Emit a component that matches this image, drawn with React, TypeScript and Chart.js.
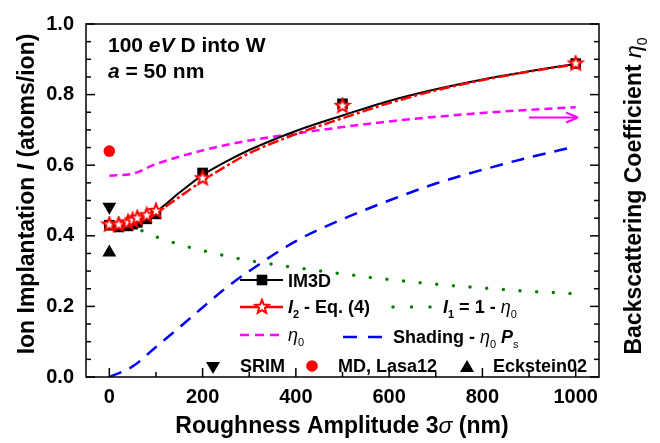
import React, { useEffect, useRef } from 'react';
import { Chart, registerables } from 'chart.js';
Chart.register(...registerables);

// ---- data ----
const curveX = [0, 50, 100, 150, 200, 250, 300, 400, 500, 600, 700, 800, 900, 1000];
const im3dFit = [0.43, 0.437, 0.468, 0.522, 0.572, 0.61, 0.643, 0.697, 0.741, 0.782, 0.815, 0.843, 0.866, 0.887];
const i2Curve = [0.43, 0.44, 0.466, 0.51, 0.556, 0.597, 0.634, 0.688, 0.733, 0.776, 0.812, 0.841, 0.865, 0.886];
const eta0 = [0.57, 0.576, 0.603, 0.624, 0.642, 0.657, 0.67, 0.69, 0.708, 0.724, 0.737, 0.748, 0.757, 0.764];
const i1 = [0.43, 0.424, 0.397, 0.376, 0.358, 0.343, 0.33, 0.31, 0.292, 0.276, 0.263, 0.252, 0.243, 0.236];
const shading = [0, 0.03, 0.085, 0.14, 0.197, 0.252, 0.3, 0.385, 0.447, 0.5, 0.548, 0.587, 0.622, 0.653];

const simX = [0, 20, 40, 50, 60, 80, 100, 200, 500, 1000];
const im3dPts = [0.43, 0.425, 0.428, 0.433, 0.438, 0.448, 0.462, 0.578, 0.774, 0.888];
const i2Pts = [0.432, 0.432, 0.438, 0.444, 0.45, 0.458, 0.47, 0.563, 0.768, 0.888];

const refX = [0];
const srimPts = [0.482];
const mdPts = [0.64];
const ecksteinPts = [0.353];

const xTickValues = [0, 200, 400, 600, 800, 1000];
const yTickValues = [0, 0.2, 0.4, 0.6, 0.8, 1.0];

const FAM = '"Liberation Sans", Arial, sans-serif';

const pts = (xs: number[], ys: number[]) => xs.map((x, i) => ({ x, y: ys[i] }));

function makeStar(): HTMLCanvasElement {
  const c = document.createElement('canvas');
  c.width = 18;
  c.height = 18;
  const g = c.getContext('2d')!;
  g.beginPath();
  for (let i = 0; i < 10; i++) {
    const r = i % 2 === 0 ? 7.2 : 3.1;
    const a = -Math.PI / 2 + (i * Math.PI) / 5;
    g.lineTo(9 + r * Math.cos(a), 9 + r * Math.sin(a));
  }
  g.closePath();
  g.fillStyle = '#ffffff';
  g.fill();
  g.lineWidth = 2;
  g.strokeStyle = '#ff0000';
  g.stroke();
  return c;
}

type Seg = { t: string; i?: boolean; n?: boolean; sub?: boolean };
function segFont(s: Seg, size: number) {
  const sz = s.sub ? Math.round(size * 0.62) : size;
  return `${s.i ? 'italic ' : ''}${s.n ? 'normal' : 'bold'} ${sz}px ${FAM}`;
}
function drawRich(ctx: CanvasRenderingContext2D, segs: Seg[], x: number, y: number, size: number, align: 'left' | 'center' = 'left') {
  let w = 0;
  for (const s of segs) {
    ctx.font = segFont(s, size);
    w += ctx.measureText(s.t).width;
  }
  let cx = align === 'center' ? x - w / 2 : x;
  ctx.textAlign = 'left';
  ctx.textBaseline = 'alphabetic';
  for (const s of segs) {
    ctx.font = segFont(s, size);
    ctx.fillText(s.t, cx, s.sub ? y + size * 0.28 : y);
    cx += ctx.measureText(s.t).width;
  }
}

export default function App() {
  const ref = useRef<HTMLCanvasElement>(null);
  useEffect(() => {
    document.body.style.margin = '0';
    const star = makeStar();
    const decor = {
      id: 'decor',
      afterDraw(chart: any) {
        const ctx: CanvasRenderingContext2D = chart.ctx;
        const { left, right, top, bottom } = chart.chartArea;
        const xs = chart.scales.x;
        const ys = chart.scales.y;
        ctx.save();
        ctx.strokeStyle = '#000';
        ctx.fillStyle = '#000';
        ctx.lineWidth = 1.5;
        ctx.strokeRect(left, top, right - left, bottom - top);
        const seg = (x1: number, y1: number, x2: number, y2: number) => {
          ctx.beginPath();
          ctx.moveTo(x1, y1);
          ctx.lineTo(x2, y2);
          ctx.stroke();
        };
        for (let k = 0; k <= 20; k++) {
          const v = k * 0.05;
          const py = ys.getPixelForValue(v);
          const L = k % 4 === 0 ? 9 : 5;
          seg(left, py, left + L, py);
          seg(right, py, right - L, py);
        }
        for (let k = 0; k <= 10; k++) {
          const px = xs.getPixelForValue(k * 100);
          const L = k % 2 === 0 ? 9 : 5;
          seg(px, bottom, px, bottom - L);
        }

        // axis titles
        ctx.fillStyle = '#000';
        drawRich(ctx, [{ t: 'Roughness Amplitude 3' }, { t: 'σ', i: true, n: true }, { t: ' (nm)' }], 342, 433, 23, 'center');
        ctx.save();
        ctx.translate(34, 194);
        ctx.rotate(-Math.PI / 2);
        drawRich(ctx, [{ t: 'Ion Implantation ' }, { t: 'I', i: true }, { t: ' (atoms/ion)' }], 0, 0, 23, 'center');
        ctx.restore();
        ctx.save();
        ctx.translate(641, 196);
        ctx.rotate(-Math.PI / 2);
        drawRich(ctx, [{ t: 'Backscattering Coefficient ' }, { t: 'η', i: true, n: true }, { t: '0', sub: true, n: true }], 0, 0, 23, 'center');
        ctx.restore();

        // annotation
        drawRich(ctx, [{ t: '100 ' }, { t: 'eV', i: true }, { t: ' D into W' }], 108, 52, 21);
        drawRich(ctx, [{ t: 'a', i: true }, { t: ' = 50 nm' }], 108, 78, 21);

        // arrow to right axis
        const ax1 = xs.getPixelForValue(900), ax2 = xs.getPixelForValue(1005), ay = ys.getPixelForValue(0.735);
        ctx.strokeStyle = '#ff00ff';
        ctx.fillStyle = '#ff00ff';
        ctx.lineWidth = 2;
        seg(ax1, ay, ax2 - 2, ay);
        ctx.beginPath();
        ctx.moveTo(ax2, ay);
        ctx.lineTo(ax2 - 12, ay - 5);
        ctx.moveTo(ax2, ay);
        ctx.lineTo(ax2 - 12, ay + 5);
        ctx.stroke();

        // legend
        const LS = 18;
        ctx.lineCap = 'butt';
        // IM3D
        ctx.strokeStyle = '#000';
        ctx.lineWidth = 2;
        ctx.setLineDash([]);
        seg(240, 280, 283, 280);
        ctx.fillStyle = '#000';
        ctx.fillRect(262 - 5.3, 280 - 5.3, 10.6, 10.6);
        drawRich(ctx, [{ t: 'IM3D' }], 288, 287, LS);
        // I2
        ctx.strokeStyle = '#ff0000';
        ctx.lineWidth = 2.5;
        seg(240, 307, 283, 307);
        ctx.drawImage(star, 262 - 9, 307 - 9);
        ctx.fillStyle = '#000';
        drawRich(ctx, [{ t: 'I', i: true }, { t: '2', sub: true }, { t: ' - Eq. (4)' }], 288, 313, LS);
        // I1
        ctx.strokeStyle = '#008000';
        ctx.lineWidth = 3.5;
        ctx.lineCap = 'round';
        ctx.setLineDash([0, 18.5]);
        seg(393, 307, 432, 307);
        ctx.setLineDash([]);
        ctx.lineCap = 'butt';
        drawRich(ctx, [{ t: 'I', i: true }, { t: '1', sub: true }, { t: ' = 1 - ' }, { t: 'η', i: true, n: true }, { t: '0', sub: true, n: true }], 443, 313, LS);
        // eta0
        ctx.strokeStyle = '#ff00ff';
        ctx.lineWidth = 2.5;
        ctx.setLineDash([9, 6]);
        seg(240, 335, 285, 335);
        ctx.setLineDash([]);
        drawRich(ctx, [{ t: 'η', i: true, n: true }, { t: '0', sub: true, n: true }], 288, 341, LS);
        // shading
        ctx.strokeStyle = '#0000ff';
        ctx.lineWidth = 2.5;
        ctx.setLineDash([14, 11]);
        seg(343, 337, 382, 337);
        ctx.setLineDash([]);
        drawRich(ctx, [{ t: 'Shading - ' }, { t: 'η', i: true, n: true }, { t: '0', sub: true, n: true }, { t: ' ' }, { t: 'P', i: true }, { t: 's', sub: true, n: true }], 393, 343, LS);
        // SRIM / MD / Eckstein
        ctx.fillStyle = '#000';
        ctx.beginPath();
        ctx.moveTo(213 - 7, 362);
        ctx.lineTo(213 + 7, 362);
        ctx.lineTo(213, 374);
        ctx.closePath();
        ctx.fill();
        drawRich(ctx, [{ t: 'SRIM' }], 240, 372, LS);
        ctx.fillStyle = '#ff0000';
        ctx.beginPath();
        ctx.arc(312, 366, 5.8, 0, Math.PI * 2);
        ctx.fill();
        ctx.fillStyle = '#000';
        drawRich(ctx, [{ t: 'MD, Lasa12' }], 338, 372, LS);
        ctx.beginPath();
        ctx.moveTo(467 - 7, 372);
        ctx.lineTo(467 + 7, 372);
        ctx.lineTo(467, 360);
        ctx.closePath();
        ctx.fill();
        drawRich(ctx, [{ t: 'Eckstein02' }], 493, 372, LS);
        ctx.restore();
      },
    };

    const lineDs = (data: any, color: string, width: number, dash: number[], extra: any = {}) => ({
      data,
      borderColor: color,
      borderWidth: width,
      borderDash: dash,
      pointRadius: 0,
      fill: false,
      showLine: true,
      cubicInterpolationMode: 'monotone',
      ...extra,
    });
    const chart = new Chart(ref.current!, {
      type: 'scatter',
      data: {
        datasets: [
          { label: 'I2 pts', data: pts(simX, i2Pts), pointStyle: star as any, pointRadius: 7, showLine: false },
          { label: 'IM3D pts', data: pts(simX, im3dPts), pointStyle: 'rect', pointRadius: 7.5, backgroundColor: '#000', borderColor: '#000', borderWidth: 0, showLine: false },
          { label: 'SRIM', data: pts(refX, srimPts), pointStyle: 'triangle', rotation: 180, pointRadius: 8, backgroundColor: '#000', borderColor: '#000', borderWidth: 0, showLine: false },
          { label: 'MD, Lasa12', data: pts(refX, mdPts), pointStyle: 'circle', pointRadius: 5.8, backgroundColor: '#ff0000', borderColor: '#ff0000', borderWidth: 0, showLine: false },
          { label: 'Eckstein02', data: pts(refX, ecksteinPts), pointStyle: 'triangle', pointRadius: 8, backgroundColor: '#000', borderColor: '#000', borderWidth: 0, showLine: false },
          lineDs(pts(curveX, i2Curve), '#ff0000', 2.5, [11, 3, 3, 3], { label: 'I2 - Eq. (4)' }),
          lineDs(pts(curveX, im3dFit), '#000000', 2, [], { label: 'IM3D' }),
          lineDs(pts(curveX, eta0), '#ff00ff', 2.5, [8, 5], { label: 'eta0' }),
          lineDs(pts(curveX, i1), '#008000', 3.5, [0, 16.7], { label: 'I1 = 1 - eta0', borderCapStyle: 'round' }),
          lineDs(pts(curveX, shading), '#0000ff', 2.5, [13, 9], { label: 'Shading - eta0 Ps' }),
        ] as any,
      },
      options: {
        responsive: false,
        animation: false,
        layout: { padding: { top: 17, right: 61, left: 0, bottom: 0 } },
        plugins: { legend: { display: false }, tooltip: { enabled: false } },
        scales: {
          x: {
            type: 'linear',
            min: -50,
            max: 1050,
            grid: { display: false, drawTicks: false },
            border: { display: false },
            afterBuildTicks: (s: any) => {
              s.ticks = xTickValues.map((v) => ({ value: v }));
            },
            afterFit: (s: any) => {
              s.height = 66;
            },
            ticks: {
              font: { family: FAM, size: 20, weight: 'bold' },
              color: '#000',
              padding: 8,
              maxRotation: 0,
              autoSkip: false,
              callback: (v: any) => String(Math.round(Number(v))),
            },
          },
          y: {
            min: 0,
            max: 1,
            grid: { display: false, drawTicks: false },
            border: { display: false },
            afterBuildTicks: (s: any) => {
              s.ticks = yTickValues.map((v) => ({ value: v }));
            },
            afterFit: (s: any) => {
              s.width = 86;
            },
            ticks: { font: { family: FAM, size: 20, weight: 'bold' }, color: '#000', padding: 12, callback: (v: any) => Number(v).toFixed(1) },
          },
        },
      } as any,
      plugins: [decor],
    });
    return () => chart.destroy();
  }, []);
  return (
    <div style={{ width: 660, height: 443 }}>
      <canvas ref={ref} width={660} height={443} />
    </div>
  );
}
